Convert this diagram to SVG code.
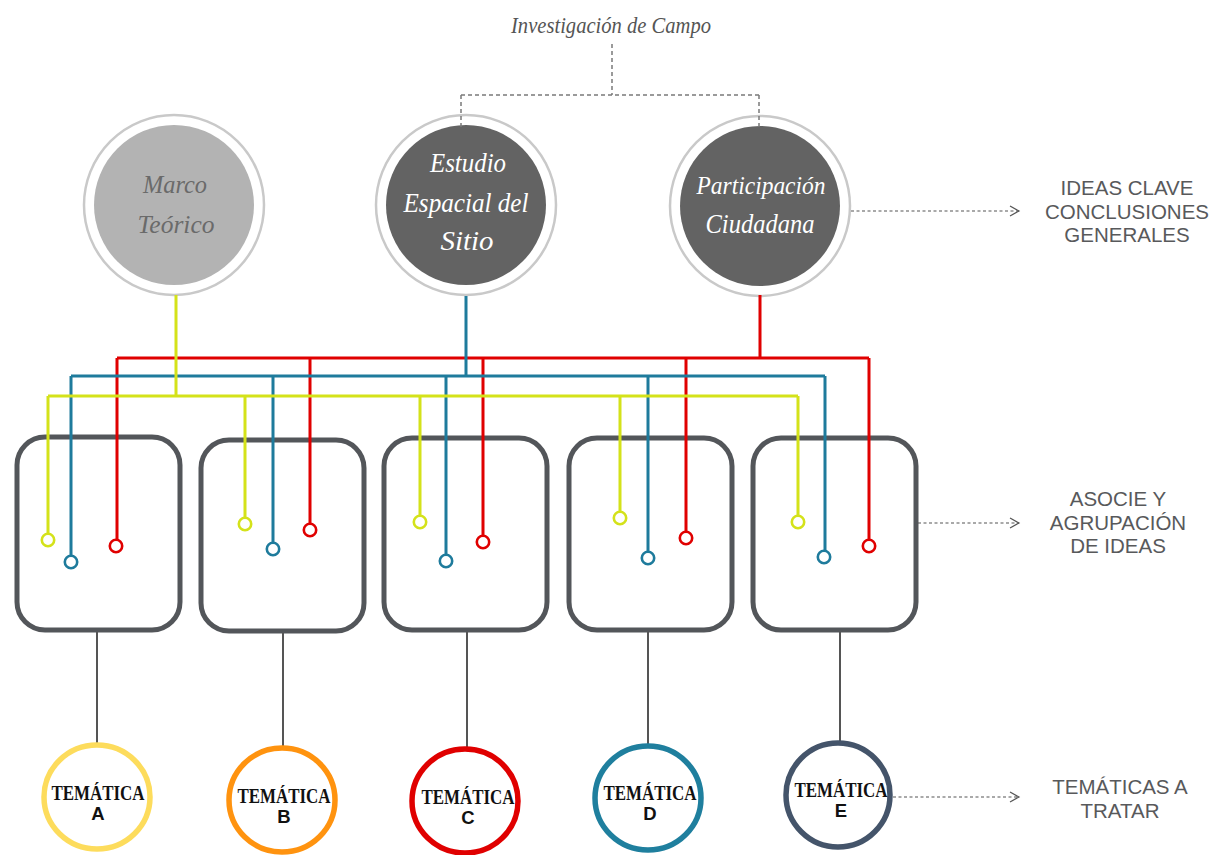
<svg xmlns="http://www.w3.org/2000/svg" width="1228" height="855" viewBox="0 0 1228 855">
<defs>
<marker id="chev" markerWidth="12" markerHeight="12" refX="10" refY="6" orient="auto" markerUnits="userSpaceOnUse">
<polyline points="1,1 10,6 1,11" fill="none" stroke="#555" stroke-width="1.2"/>
</marker>
<style>
.hand{font-family:"Liberation Serif","DejaVu Serif",serif;font-style:italic;text-anchor:middle}
.ring{fill:none;stroke:#c9c9c9;stroke-width:2.5}
.box{fill:#fff;stroke:#53565a;stroke-width:5}
.lab{font-family:"Liberation Sans",Arial,sans-serif;font-size:20.5px;fill:#58595b;text-anchor:middle}
.tdash{fill:none;stroke:#7a7a7a;stroke-width:1.5;stroke-dasharray:4 3}
.adash{fill:none;stroke:#555;stroke-width:1.2;stroke-dasharray:3 2.5}
.w{fill:none;stroke-width:3;stroke-linejoin:miter}
.y{stroke:#d4e21a}
.b{stroke:#1e7b9c}
.r{stroke:#e00000}
.pin{fill:#fff;stroke-width:2.6}
.stem{stroke:#555;stroke-width:2}
.tc{fill:#fff;stroke-width:5.5}
.tm{font-family:"Liberation Serif","DejaVu Serif",serif;font-weight:bold;font-size:20px;fill:#111;text-anchor:middle}
.tl{font-family:"Liberation Sans",Arial,sans-serif;font-weight:bold;font-size:18.5px;fill:#111;text-anchor:middle}
</style>
</defs>
<rect width="1228" height="855" fill="#fff"/>

<g id="title">
<text class="hand" x="611" y="33" font-size="23" fill="#555" textLength="200" lengthAdjust="spacingAndGlyphs">Investigación de Campo</text>
</g>

<g id="node-marco">
<circle class="ring" cx="174" cy="205" r="90"/>
<circle cx="174" cy="205" r="80" fill="#b3b3b3"/>
<text class="hand" x="175" y="193" font-size="26" fill="#6a6a6a" textLength="64" lengthAdjust="spacingAndGlyphs">Marco</text>
<text class="hand" x="176" y="233" font-size="26" fill="#6a6a6a" textLength="77" lengthAdjust="spacingAndGlyphs">Teórico</text>
</g>

<g id="node-estudio">
<circle class="ring" cx="466" cy="205" r="90"/>
<circle cx="466" cy="205" r="80" fill="#636363"/>
<text class="hand" x="468" y="172" font-size="27" fill="#fff" textLength="76" lengthAdjust="spacingAndGlyphs">Estudio</text>
<text class="hand" x="466" y="212" font-size="27" fill="#fff" textLength="125" lengthAdjust="spacingAndGlyphs">Espacial del</text>
<text class="hand" x="467" y="250" font-size="27" fill="#fff" textLength="53" lengthAdjust="spacingAndGlyphs">Sitio</text>
</g>

<g id="node-participacion">
<circle class="ring" cx="760" cy="206" r="90"/>
<circle cx="760" cy="206" r="80" fill="#636363"/>
<text class="hand" x="761" y="194" font-size="26" fill="#fff" textLength="129" lengthAdjust="spacingAndGlyphs">Participación</text>
<text class="hand" x="760" y="233" font-size="27" fill="#fff" textLength="109" lengthAdjust="spacingAndGlyphs">Ciudadana</text>
</g>

<g id="box-a"><rect class="box" x="17" y="437" width="163" height="193" rx="28"/></g>
<g id="box-b"><rect class="box" x="201" y="440" width="163" height="191" rx="28"/></g>
<g id="box-c"><rect class="box" x="384" y="438" width="163" height="192" rx="28"/></g>
<g id="box-d"><rect class="box" x="569" y="438" width="163" height="192" rx="28"/></g>
<g id="box-e"><rect class="box" x="753" y="438" width="163" height="192" rx="28"/></g>

<g id="connectors">
<path class="tdash" d="M612,44 V95 M461,95 H759 M461,95 V130 M759,95 V130"/>
<path class="adash" d="M851,211 H1019" marker-end="url(#chev)"/>
<path class="adash" d="M918,523 H1019" marker-end="url(#chev)"/>
<path class="adash" d="M893,797 H1019" marker-end="url(#chev)"/>

<path class="w r" d="M760,295 V358 M117,358 H869 M117,358 V546 M310,358 V530 M483,358 V542 M686,358 V538 M869,358 V546"/>
<path class="w b" d="M466,296 V376 M71,376 H825 M71,376 V562 M273,376 V549 M446,376 V561 M648,376 V558 M825,376 V557"/>
<path class="w y" d="M176,295 V396 M48,396 H798 M48,396 V540 M245,396 V524 M420,396 V522 M620,396 V518 M798,396 V522"/>

<circle class="pin y" cx="48" cy="540" r="6.2"/>
<circle class="pin b" cx="71" cy="562" r="6.2"/>
<circle class="pin r" cx="116" cy="546" r="6.2"/>
<circle class="pin y" cx="245" cy="524" r="6.2"/>
<circle class="pin b" cx="273" cy="549" r="6.2"/>
<circle class="pin r" cx="310" cy="530" r="6.2"/>
<circle class="pin y" cx="420" cy="522" r="6.2"/>
<circle class="pin b" cx="446" cy="561" r="6.2"/>
<circle class="pin r" cx="483" cy="542" r="6.2"/>
<circle class="pin y" cx="620" cy="518" r="6.2"/>
<circle class="pin b" cx="648" cy="558" r="6.2"/>
<circle class="pin r" cx="686" cy="538" r="6.2"/>
<circle class="pin y" cx="798" cy="522" r="6.2"/>
<circle class="pin b" cx="824" cy="557" r="6.2"/>
<circle class="pin r" cx="869" cy="546" r="6.2"/>

<path class="stem" d="M97,632 V746 M283,633 V749 M467,632 V750 M648,632 V746 M840,632 V744"/>
</g>

<g id="tema-a">
<ellipse class="tc" cx="97" cy="797" rx="53" ry="52" stroke="#fddc5c"/>
<text class="tm" x="98" y="800" textLength="93" lengthAdjust="spacingAndGlyphs">TEMÁTICA</text>
<text class="tl" x="98" y="820">A</text>
</g>
<g id="tema-b">
<ellipse class="tc" cx="282" cy="800" rx="53" ry="52" stroke="#ff930f"/>
<text class="tm" x="284" y="803" textLength="93" lengthAdjust="spacingAndGlyphs">TEMÁTICA</text>
<text class="tl" x="284" y="823">B</text>
</g>
<g id="tema-c">
<ellipse class="tc" cx="465" cy="801" rx="53" ry="52" stroke="#e00000"/>
<text class="tm" x="468" y="804" textLength="93" lengthAdjust="spacingAndGlyphs">TEMÁTICA</text>
<text class="tl" x="468" y="824">C</text>
</g>
<g id="tema-d">
<ellipse class="tc" cx="648" cy="798" rx="53" ry="52" stroke="#1f7f9e"/>
<text class="tm" x="650" y="800" textLength="93" lengthAdjust="spacingAndGlyphs">TEMÁTICA</text>
<text class="tl" x="650" y="820">D</text>
</g>
<g id="tema-e">
<ellipse class="tc" cx="838" cy="795" rx="52" ry="52" stroke="#44546a"/>
<text class="tm" x="841" y="797" textLength="93" lengthAdjust="spacingAndGlyphs">TEMÁTICA</text>
<text class="tl" x="841" y="817">E</text>
</g>

<g id="label-ideas">
<text class="lab" x="1127" y="195">IDEAS CLAVE</text>
<text class="lab" x="1127" y="219">CONCLUSIONES</text>
<text class="lab" x="1127" y="242">GENERALES</text>
</g>
<g id="label-asocie">
<text class="lab" x="1118" y="506">ASOCIE Y</text>
<text class="lab" x="1118" y="530">AGRUPACIÓN</text>
<text class="lab" x="1118" y="553">DE IDEAS</text>
</g>
<g id="label-tematicas">
<text class="lab" x="1120" y="794" fill="#666">TEMÁTICAS A</text>
<text class="lab" x="1120" y="818" fill="#666">TRATAR</text>
</g>
</svg>
